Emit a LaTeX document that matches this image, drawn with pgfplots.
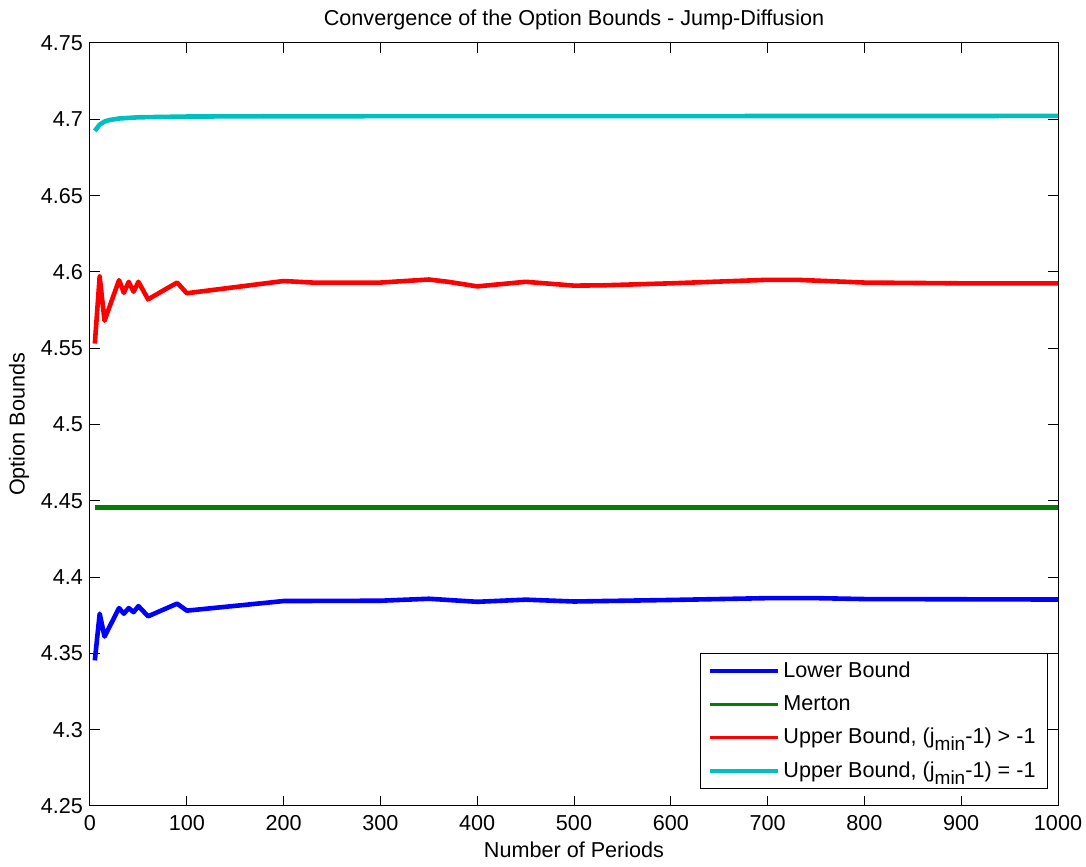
\documentclass[border=0pt]{standalone}
\usepackage{pgfplots}
\pgfplotsset{compat=1.18}
\usepackage{fontspec}
\setmainfont{Liberation Sans}
\definecolor{mblue}{RGB}{0,0,255}
\definecolor{mgreen}{RGB}{0,128,0}
\definecolor{mred}{RGB}{255,0,0}
\definecolor{mcyan}{RGB}{0,191,191}
\newcommand{\jsub}{\raisebox{-0.6ex}{\fontsize{9.5}{10}\selectfont min}}
\begin{document}
\begin{tikzpicture}
\begin{axis}[
  name=ax,
  width=484pt, height=381.5pt,
  scale only axis,
  xmin=0, xmax=1000, ymin=4.25, ymax=4.75,
  xtick={0,100,...,1000},
  ytick={4.25,4.3,4.35,4.4,4.45,4.5,4.55,4.6,4.65,4.7,4.75},
  yticklabels={4.25,4.3,4.35,4.4,4.45,4.5,4.55,4.6,4.65,4.7,4.75},
  /pgf/number format/1000 sep={},
  /pgf/number format/assume math mode=true,
  tick label style={font=\fontsize{10.8}{12}\selectfont},
  xticklabel style={yshift=-1pt},
  major tick length=5pt,
  tick style={black, line width=0.5pt},
  axis line style={black, line width=0.5pt},
  title={Convergence of the Option Bounds - Jump-Diffusion},
  title style={font=\fontsize{10.8}{12}\selectfont, yshift=-3pt},
  xlabel={Number of Periods},
  ylabel={Option Bounds},
  label style={font=\fontsize{10.8}{12}\selectfont},
  xlabel style={yshift=1pt},
  ylabel style={yshift=-1pt},
  legend style={at={(0.9897,0.0223)}, anchor=south east, font=\fontsize{10.8}{12}\selectfont,
    draw=black, line width=0.5pt, row sep=3.5pt, inner xsep=4pt, inner ysep=2pt},
  legend cell align=left,
  legend image code/.code={\draw[#1, line width=1.7pt] (0pt,0pt) -- (34pt,0pt);},
  every axis plot/.append style={line width=2.3pt, line join=round},
]
\addplot[mblue] coordinates {
(5,4.3454) (10,4.376) (15,4.361) (30,4.3797) (35,4.376) (40,4.3797) (45,4.377) (50,4.381) (60,4.3743) (90,4.3826) (100,4.378) (200,4.3843) (300,4.3845) (350,4.3858) (400,4.3838) (450,4.3852) (500,4.384) (600,4.385) (700,4.3862) (750,4.3862) (800,4.3856) (1000,4.3853)
};
\addlegendentry{Lower Bound}
\addplot[mgreen] coordinates {(5,4.4457) (1000,4.4457)};
\addlegendentry{Merton}
\addplot[mred] coordinates {
(5,4.553) (10,4.597) (15,4.568) (30,4.5946) (35,4.5863) (40,4.5935) (45,4.587) (50,4.5935) (60,4.582) (90,4.593) (100,4.586) (200,4.594) (230,4.593) (300,4.593) (350,4.595) (370,4.5935) (400,4.5905) (450,4.5935) (500,4.591) (530,4.5912) (600,4.5925) (700,4.5948) (730,4.5948) (800,4.593) (900,4.5925) (1000,4.5925)
};
\addlegendentry{Upper Bound, (j\jsub-1) > -1}
\addplot[mcyan] coordinates {
(5,4.6924) (10,4.6965) (15,4.6985) (20,4.6995) (30,4.7005) (50,4.7013) (100,4.7018) (200,4.702) (1000,4.7022)
};
\addlegendentry{Upper Bound, (j\jsub-1) = -1}
\end{axis}
\pgfresetboundingbox
\path[use as bounding box] ([shift={(-45pt,-30.5pt)}]ax.south west) rectangle ([shift={(14pt,21.5pt)}]ax.north east);
\end{tikzpicture}
\end{document}
